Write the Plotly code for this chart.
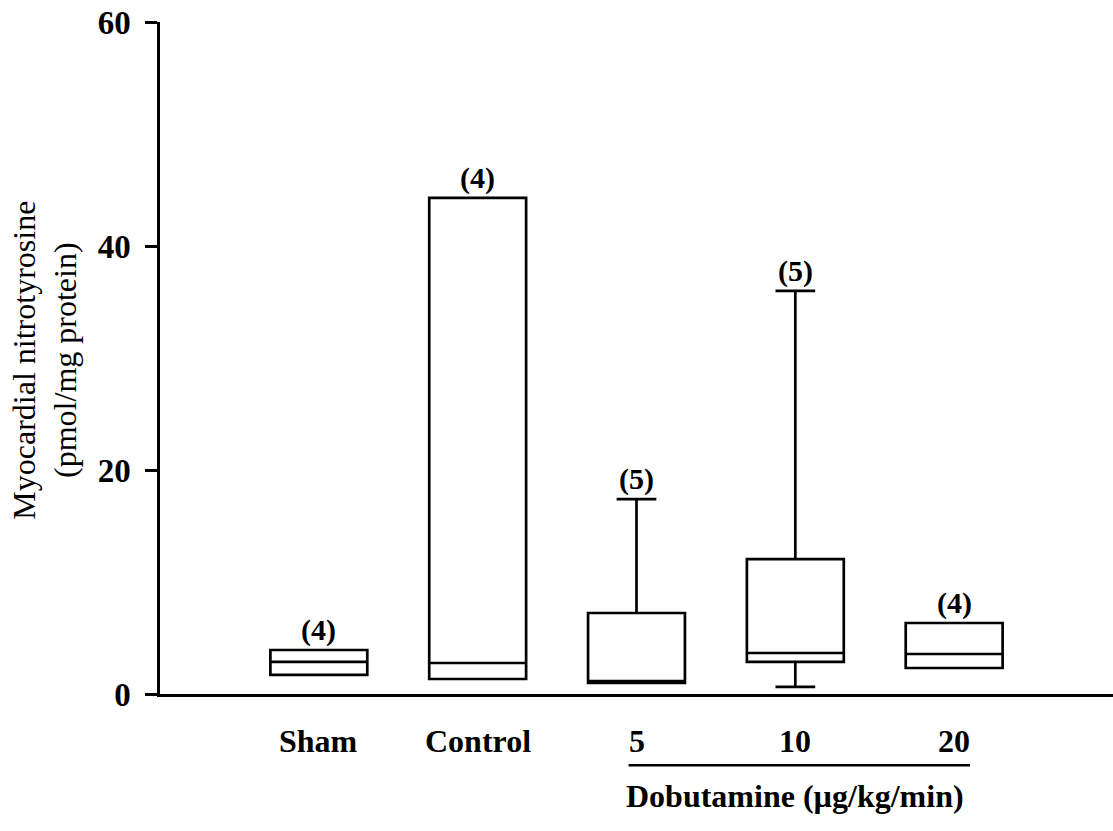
import plotly.graph_objects as go

# Group summary statistics (pmol/mg protein)
groups = ["Sham", "Control", "5", "10", "20"]
q1 = [1.70, 1.34, 0.98, 2.86, 2.32]
median = [2.86, 2.77, 1.15, 3.66, 3.57]
q3 = [3.93, 44.3, 7.23, 12.05, 6.34]
lower = [1.70, 1.34, 0.98, 0.63, 2.32]
upper = [3.93, 44.3, 17.4, 36.0, 6.34]
n_labels = ["(4)", "(4)", "(5)", "(5)", "(4)"]
y_ticks = [0, 20, 40, 60]

pos = list(range(len(groups)))
serif = "Liberation Serif, Times New Roman, serif"

fig = go.Figure()
fig.add_trace(go.Box(
    x=pos, q1=q1, median=median, q3=q3,
    lowerfence=lower, upperfence=upper,
    width=0.61, whiskerwidth=0.41,
    fillcolor="white", line=dict(color="black", width=2.7),
    boxpoints=False, hoverinfo="skip", showlegend=False,
))

annotations = []
for i, lab in enumerate(groups):
    annotations.append(dict(x=i, y=-0.07, xref="x", yref="paper", text="<b>%s</b>" % lab,
                            showarrow=False, font=dict(family=serif, size=32, color="black"),
                            xanchor="center", yanchor="middle"))
for i, lab in enumerate(n_labels):
    annotations.append(dict(x=i, y=upper[i], xref="x", yref="y", text="<b>%s</b>" % lab,
                            showarrow=False, font=dict(family=serif, size=30, color="black"),
                            xanchor="center", yanchor="bottom", yshift=1))
annotations.append(dict(x=3.0, y=-0.152, xref="x", yref="paper",
                        text="<b>Dobutamine (\u00b5g/kg/min)</b>", showarrow=False,
                        font=dict(family=serif, size=32, color="black"),
                        xanchor="center", yanchor="middle"))
annotations.append(dict(x=-0.121, y=0.497, xref="paper", yref="paper",
                        text="Myocardial nitrotyrosine<br>(pmol/mg protein)", textangle=-90,
                        showarrow=False, font=dict(family=serif, size=32, color="black"),
                        xanchor="center", yanchor="middle"))

fig.update_layout(
    width=1113, height=831,
    margin=dict(l=160, r=0, t=22, b=137),
    paper_bgcolor="white", plot_bgcolor="white",
    annotations=annotations,
    shapes=[dict(type="line", xref="x", yref="paper", x0=1.95, x1=4.10,
                 y0=-0.106, y1=-0.106, line=dict(color="black", width=2.5))],
    xaxis=dict(range=[-1, 5], showticklabels=False, ticks="", showgrid=False,
               zeroline=False, showline=True, linecolor="black", linewidth=2.5),
    yaxis=dict(range=[0, 60], tickvals=y_ticks, ticks="outside", ticklen=12,
               tickwidth=2.5, tickcolor="black", showgrid=False, zeroline=False,
               showline=True, linecolor="black", linewidth=2.5,
               tickfont=dict(family=serif, size=33, color="black", weight="bold"),
               ticklabelstandoff=8),
)

fig.write_html("out.html")
